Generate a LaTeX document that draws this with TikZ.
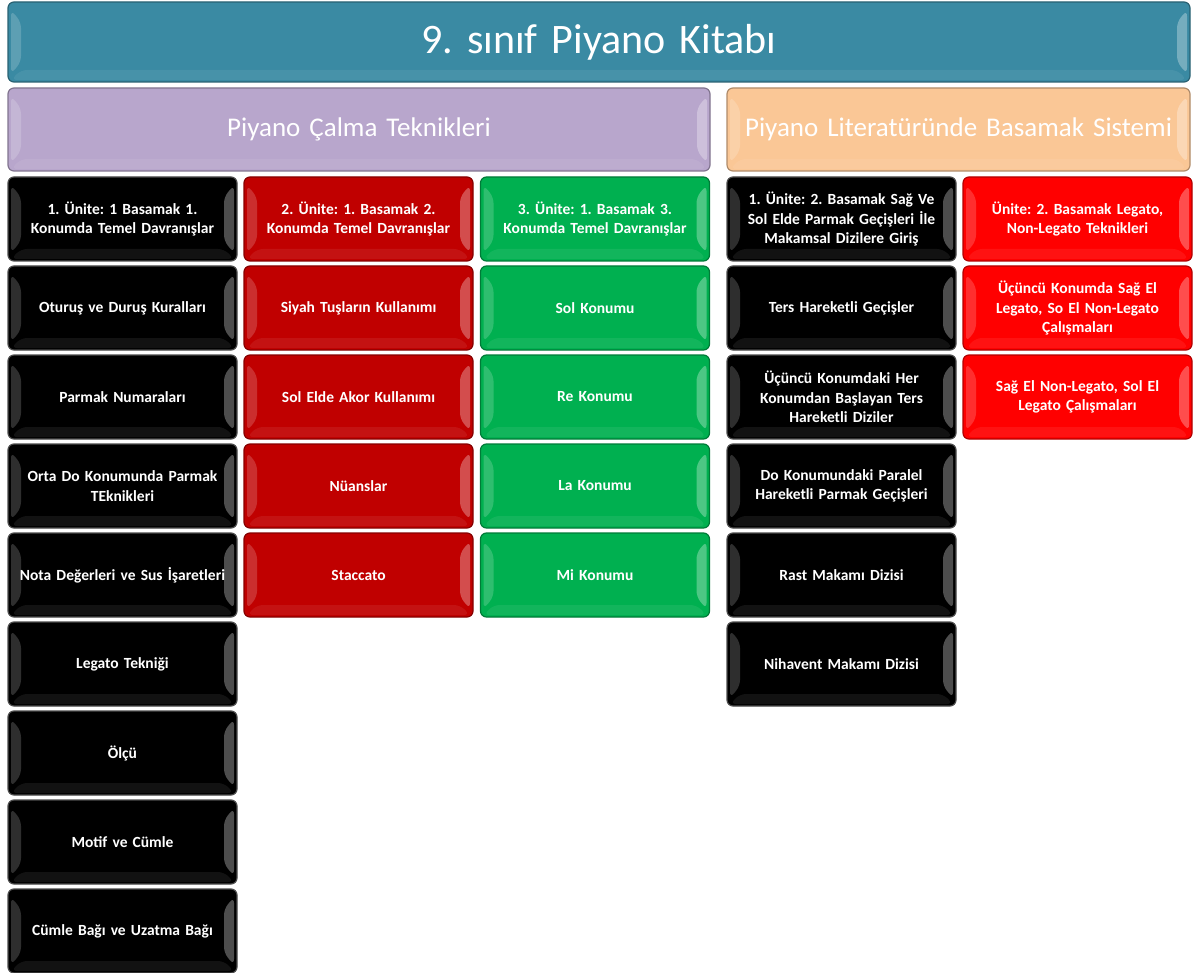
\documentclass[tikz,border=0pt]{standalone}
\usepackage{fontspec}
\setmainfont{Carlito}
\usetikzlibrary{calc}
\definecolor{baslik}{HTML}{3A8AA3}
\definecolor{mor}{HTML}{B8A6CC}
\definecolor{turuncu}{HTML}{FAC796}
\definecolor{siyah}{HTML}{000000}
\definecolor{bordo}{HTML}{C00000}
\definecolor{yesil}{HTML}{00B050}
\definecolor{kirmizi}{HTML}{FF0000}
\frenchspacing
\tikzset{
  parlak/.style={path picture={
    \fill[white,opacity=.18] ([xshift=3pt,yshift=-8pt]path picture bounding box.north west)
      -- ([xshift=13pt,yshift=-20pt]path picture bounding box.north west)
      -- ([xshift=13pt,yshift=20pt]path picture bounding box.south west)
      -- ([xshift=3pt,yshift=8pt]path picture bounding box.south west) -- cycle;
    \fill[white,opacity=.3] ([xshift=-3pt,yshift=-8pt]path picture bounding box.north east)
      -- ([xshift=-13pt,yshift=-20pt]path picture bounding box.north east)
      -- ([xshift=-13pt,yshift=20pt]path picture bounding box.south east)
      -- ([xshift=-3pt,yshift=8pt]path picture bounding box.south east) -- cycle;
    \fill[white,opacity=.07] ([xshift=13pt,yshift=12pt]path picture bounding box.south west)
      -- ([xshift=-13pt,yshift=12pt]path picture bounding box.south east)
      -- ([xshift=-3pt,yshift=2pt]path picture bounding box.south east)
      -- ([xshift=3pt,yshift=2pt]path picture bounding box.south west) -- cycle;}},
  kutu/.style={draw=#1!70!black, line width=1.2pt, fill=#1, rounded corners=6pt, parlak,
    minimum width=229pt, minimum height=84pt, text width=228pt, align=center,
    inner sep=0pt, text=white, font=\fontsize{15.5}{19.5}\selectfont\bfseries},
  ustkutu/.style={kutu=#1, minimum height=83pt, font=\fontsize{27}{30}\selectfont},
}

\begin{document}
\begin{tikzpicture}[x=1pt,y=-1pt]
\useasboundingbox (0,0) rectangle (1193,973);
% basliklar
\node [ustkutu=baslik, minimum width=1182pt, minimum height=80pt, text width=1170pt,
  font=\fontsize{42}{46}\selectfont] (baslik) at (599,42) {9. sınıf Piyano Kitabı};
\node [ustkutu=mor, minimum width=702pt, text width=690pt] (teknik) at (359,129.5) {Piyano Çalma Teknikleri};
\node [ustkutu=turuncu, minimum width=463pt, text width=462pt] (literatur) at (958.5,129.5) {Piyano Literatüründe Basamak Sistemi};
% sutunlar
\foreach \t [count=\i] in {{1. Ünite: 1 Basamak 1.\\Konumda Temel Davranışlar},
  Oturuş ve Duruş Kuralları, Parmak Numaraları, {Orta Do Konumunda Parmak\\TEknikleri},
  Nota Değerleri ve Sus İşaretleri, Legato Tekniği, Ölçü, Motif ve Cümle,
  Cümle Bağı ve Uzatma Bağı}
  \node [kutu=siyah, draw=gray!60!black] (a\i) at (122.5,{219+89*(\i-1)}) {\t};
\foreach \t [count=\i] in {{2. Ünite: 1. Basamak 2.\\Konumda Temel Davranışlar},
  Siyah Tuşların Kullanımı, Sol Elde Akor Kullanımı, Nüanslar, Staccato}
  \node [kutu=bordo] (b\i) at (358.5,{219+89*(\i-1)}) {\t};
\foreach \t [count=\i] in {{3. Ünite: 1. Basamak 3.\\Konumda Temel Davranışlar},
  Sol Konumu, Re Konumu, La Konumu, Mi Konumu}
  \node [kutu=yesil] (c\i) at (595,{219+89*(\i-1)}) {\t};
\foreach \t [count=\i] in {{1. Ünite: 2. Basamak Sağ Ve\\Sol Elde Parmak Geçişleri İle\\Makamsal Dizilere Giriş},
  Ters Hareketli Geçişler, {Üçüncü Konumdaki Her\\Konumdan Başlayan Ters\\Hareketli Diziler},
  {Do Konumundaki Paralel\\Hareketli Parmak Geçişleri}, Rast Makamı Dizisi, Nihavent Makamı Dizisi}
  \node [kutu=siyah, draw=gray!60!black] (d\i) at (841.5,{219+89*(\i-1)}) {\t};
\foreach \t [count=\i] in {{Ünite: 2. Basamak Legato,\\Non-Legato Teknikleri},
  {Üçüncü Konumda Sağ El\\Legato, So El Non-Legato\\Çalışmaları},
  {Sağ El Non-Legato, Sol El\\Legato Çalışmaları}}
  \node [kutu=kirmizi] (e\i) at (1077.5,{219+89*(\i-1)}) {\t};
\end{tikzpicture}
\end{document}
